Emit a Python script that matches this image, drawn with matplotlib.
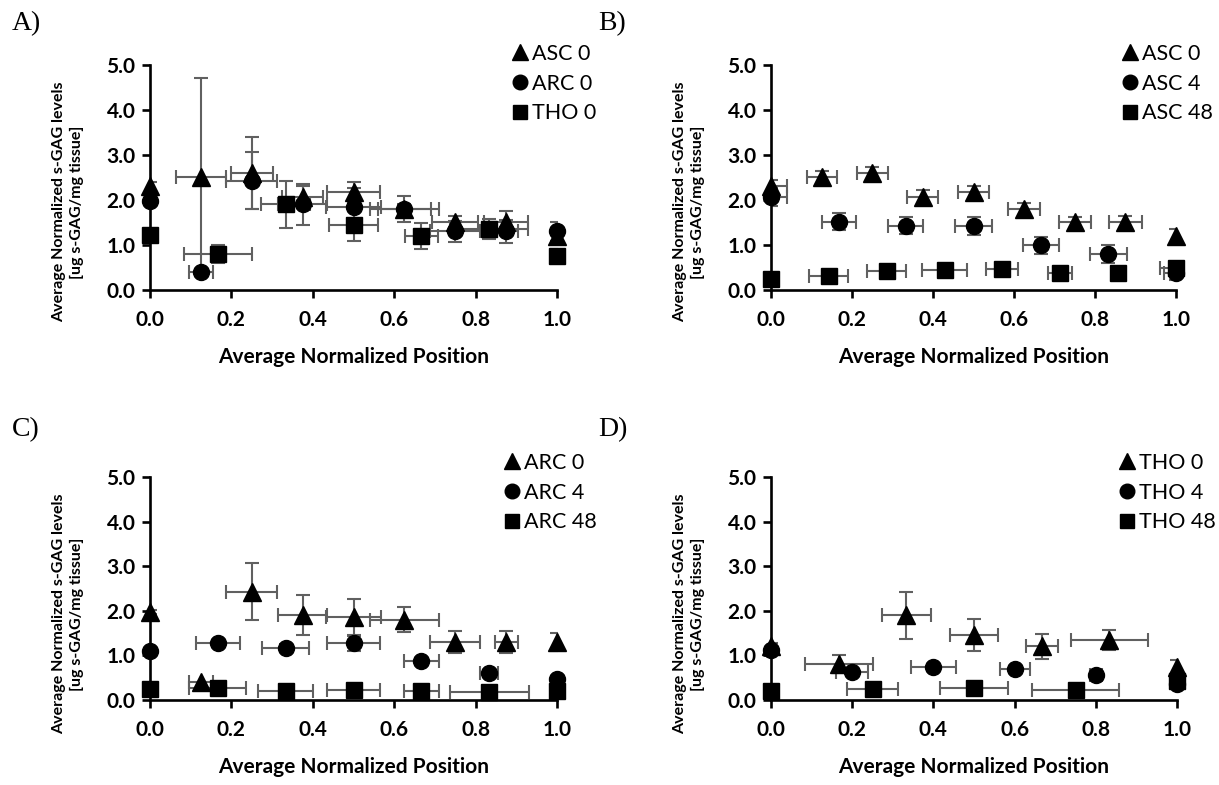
import numpy as np
import matplotlib
matplotlib.use("Agg")
import matplotlib.pyplot as plt
from matplotlib.lines import Line2D

plt.rcParams['font.family'] = ['Lato', 'DejaVu Sans']

# ---------------- data ----------------
# ASC 0 (panel A error bars and panel B error bars differ)
x_asc0 = [0.0, 0.125, 0.25, 0.375, 0.5, 0.625, 0.75, 0.875, 1.0]
y_asc0 = [2.3, 2.5, 2.6, 2.07, 2.17, 1.8, 1.5, 1.5, 1.2]
yerr_asc0_A = [0.1, 2.2, 0.8, 0.25, 0.22, 0.1, 0.15, 0.26, 0.15]
xerr_asc0_A = [0.0, 0.062, 0.052, 0.05, 0.065, 0.065, 0.057, 0.054, 0.0]
yerr_asc0_B = [0.15, 0.15, 0.13, 0.15, 0.15, 0.13, 0.13, 0.14, 0.15]
xerr_asc0_B = [0.04, 0.037, 0.038, 0.038, 0.038, 0.04, 0.04, 0.04, 0.0]

# ARC 0
x_arc0 = [0.0, 0.125, 0.25, 0.375, 0.5, 0.625, 0.75, 0.875, 1.0]
y_arc0 = [1.97, 0.4, 2.43, 1.9, 1.85, 1.8, 1.3, 1.3, 1.3]
yerr_arc0 = [0.05, 0.0, 0.64, 0.45, 0.42, 0.28, 0.24, 0.25, 0.21]
xerr_arc0 = [0.0, 0.03, 0.063, 0.06, 0.067, 0.085, 0.062, 0.028, 0.0]

# THO 0
x_tho0 = [0.0, 0.167, 0.333, 0.5, 0.667, 0.833, 1.0]
y_tho0 = [1.22, 0.8, 1.9, 1.45, 1.2, 1.35, 0.75]
yerr_tho0 = [0.05, 0.2, 0.53, 0.36, 0.28, 0.22, 0.15]
xerr_tho0 = [0.0, 0.083, 0.06, 0.06, 0.04, 0.095, 0.0]

# ASC 4 / ASC 48
x_asc4 = [0.0, 0.167, 0.333, 0.5, 0.667, 0.833, 1.0]
y_asc4 = [2.07, 1.52, 1.43, 1.42, 0.99, 0.8, 0.38]
yerr_asc4 = [0.2, 0.19, 0.19, 0.2, 0.19, 0.2, 0.15]
xerr_asc4 = [0.04, 0.042, 0.043, 0.045, 0.045, 0.045, 0.03]

x_asc48 = [0.0, 0.143, 0.286, 0.429, 0.571, 0.714, 0.857, 1.0]
y_asc48 = [0.25, 0.32, 0.43, 0.45, 0.47, 0.38, 0.37, 0.48]
yerr_asc48 = [0.03, 0.03, 0.03, 0.03, 0.03, 0.03, 0.03, 0.03]
xerr_asc48 = [0.0, 0.048, 0.048, 0.055, 0.04, 0.03, 0.0, 0.04]

# ARC 4 / ARC 48
x_arc4 = [0.0, 0.167, 0.333, 0.5, 0.667, 0.833, 1.0]
y_arc4 = [1.1, 1.27, 1.17, 1.27, 0.87, 0.6, 0.47]
yerr_arc4 = [0.05, 0.08, 0.08, 0.18, 0.08, 0.08, 0.05]
xerr_arc4 = [0.0, 0.055, 0.057, 0.065, 0.043, 0.023, 0.0]

x_arc48 = [0.0, 0.167, 0.333, 0.5, 0.667, 0.833, 1.0]
y_arc48 = [0.25, 0.28, 0.2, 0.22, 0.2, 0.17, 0.2]
yerr_arc48 = [0.03, 0.03, 0.03, 0.03, 0.03, 0.03, 0.03]
xerr_arc48 = [0.0, 0.07, 0.067, 0.066, 0.044, 0.097, 0.0]

# THO 4 / THO 48
x_tho4 = [0.0, 0.2, 0.4, 0.6, 0.8, 1.0]
y_tho4 = [1.12, 0.63, 0.73, 0.7, 0.56, 0.35]
yerr_tho4 = [0.05, 0.05, 0.05, 0.05, 0.05, 0.05]
xerr_tho4 = [0.0, 0.04, 0.055, 0.037, 0.015, 0.0]

x_tho48 = [0.0, 0.25, 0.5, 0.75, 1.0]
y_tho48 = [0.2, 0.25, 0.27, 0.23, 0.43]
yerr_tho48 = [0.03, 0.03, 0.03, 0.03, 0.03]
xerr_tho48 = [0.0, 0.063, 0.084, 0.108, 0.0]

x_ticks = [0.0, 0.2, 0.4, 0.6, 0.8, 1.0]
y_ticks = [0.0, 1.0, 2.0, 3.0, 4.0, 5.0]
x_title = "Average Normalized Position"
y_title = "Average Normalized s-GAG levels\n[ug s-GAG/mg tissue]"

panels = [
    ("A)", [("ASC 0", x_asc0, y_asc0, xerr_asc0_A, yerr_asc0_A),
            ("ARC 0", x_arc0, y_arc0, xerr_arc0, yerr_arc0),
            ("THO 0", x_tho0, y_tho0, xerr_tho0, yerr_tho0)]),
    ("B)", [("ASC 0", x_asc0, y_asc0, xerr_asc0_B, yerr_asc0_B),
            ("ASC 4", x_asc4, y_asc4, xerr_asc4, yerr_asc4),
            ("ASC 48", x_asc48, y_asc48, xerr_asc48, yerr_asc48)]),
    ("C)", [("ARC 0", x_arc0, y_arc0, xerr_arc0, yerr_arc0),
            ("ARC 4", x_arc4, y_arc4, xerr_arc4, yerr_arc4),
            ("ARC 48", x_arc48, y_arc48, xerr_arc48, yerr_arc48)]),
    ("D)", [("THO 0", x_tho0, y_tho0, xerr_tho0, yerr_tho0),
            ("THO 4", x_tho4, y_tho4, xerr_tho4, yerr_tho4),
            ("THO 48", x_tho48, y_tho48, xerr_tho48, yerr_tho48)]),
]

# ---------------- layout (pixels) ----------------
W, H = 1219, 785
fig = plt.figure(figsize=(W / 100, H / 100), dpi=100)

# left, right, top, bottom in pixels
boxes = [(150, 557, 65, 290), (771, 1176, 65, 290),
         (150, 557, 477, 700), (771, 1177, 477, 700)]
label_pos = [(12, 24), (598, 24), (12, 430), (598, 430)]
legend_pos = [(512, 44), (1122, 44), (504, 453), (1119, 453)]

markers = ['^', 'o', 's']
msizes = [12.5, 11.5, 11]
ecol = '#606060'

def px(x, y):
    return x / W, 1 - y / H

for (plabel, series), (l, r, t, b), (lx, ly), (gx, gy) in zip(panels, boxes, label_pos, legend_pos):
    ax = fig.add_axes([l / W, 1 - b / H, (r - l) / W, (b - t) / H])
    ax.set_xlim(0, 1)
    ax.set_ylim(0, 5)
    # error bars first
    for (name, xs, ys, xe, ye) in series:
        xs = np.asarray(xs); ys = np.asarray(ys)
        xe = np.asarray(xe); ye = np.asarray(ye)
        mx = xe > 0
        my = ye > 0
        if mx.any():
            ax.errorbar(xs[mx], ys[mx], xerr=xe[mx], fmt='none', ecolor=ecol,
                        elinewidth=1.5, capsize=5, capthick=1.5, zorder=2)
        if my.any():
            ax.errorbar(xs[my], ys[my], yerr=ye[my], fmt='none', ecolor=ecol,
                        elinewidth=1.5, capsize=5, capthick=1.5, zorder=2)
    handles = []
    for (name, xs, ys, xe, ye), m, ms in zip(series, markers, msizes):
        ax.plot(xs, ys, linestyle='none', marker=m, markersize=ms, color='black',
                clip_on=False, zorder=3)
        handles.append(Line2D([], [], linestyle='none', marker=m, markersize=ms - 1,
                              color='black'))
    ax.spines['top'].set_visible(False)
    ax.spines['right'].set_visible(False)
    for s in ['left', 'bottom']:
        ax.spines[s].set_linewidth(1.9)
    ax.set_xticks(x_ticks)
    ax.set_yticks(y_ticks)
    ax.set_xticklabels([f"{v:.1f}" for v in x_ticks])
    ax.set_yticklabels([f"{v:.1f}" for v in y_ticks])
    ax.tick_params(axis='both', direction='out', length=5.5, width=1.9,
                   labelsize=15)
    ax.tick_params(axis='x', pad=9)
    ax.tick_params(axis='y', pad=5)
    for lab in ax.get_xticklabels() + ax.get_yticklabels():
        lab.set_fontweight('bold')
    ax.set_xlabel(x_title, fontsize=15, fontweight='bold')
    ax.xaxis.set_label_coords(0.5, -(67) / (b - t))
    ax.xaxis.label.set_va('center')
    ax.set_ylabel(y_title, fontsize=11.5, fontweight='bold', linespacing=1.3)
    ax.yaxis.set_label_coords((68 - 150) / (r - l), (b - 202 + 65 - t) / (b - t))
    ax.yaxis.label.set_va('center')
    ax.legend(handles, [s[0] for s in series], loc='upper left',
              bbox_to_anchor=px(gx, gy), bbox_transform=fig.transFigure,
              frameon=False, fontsize=15.5, handlelength=0.7, handletextpad=0.25,
              labelspacing=0.45, borderpad=0, borderaxespad=0)
    fx, fy = px(lx, ly)
    fig.text(fx, fy, plabel, fontsize=20, family='Liberation Serif',
             ha='left', va='center')

fig.savefig("out.png", dpi=100)
